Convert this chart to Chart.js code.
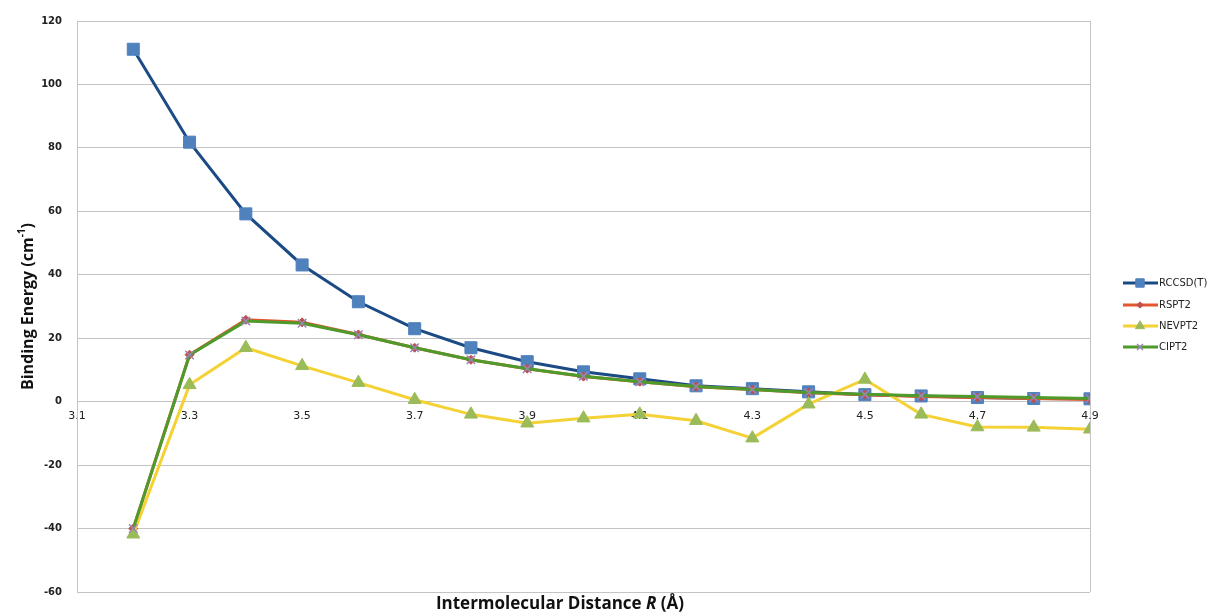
<!DOCTYPE html>
<html>
<head>
<meta charset="utf-8">
<title>Binding Energy</title>
<script src="https://cdn.jsdelivr.net/npm/chart.js@4"></script>
<style>
  html, body { margin: 0; padding: 0; background: #fff; }
  canvas { display: block; }
</style>
</head>
<body>
<canvas id="chart" width="1209" height="615"></canvas>
<script>
// distances R (Å)
const distances = [3.2, 3.3, 3.4, 3.5, 3.6, 3.7, 3.8, 3.9, 4.0, 4.1, 4.2, 4.3, 4.4, 4.5, 4.6, 4.7, 4.8, 4.9];
// binding energies (cm-1)
const rccsdt = [111.1, 81.8, 59.2, 43.1, 31.5, 23.0, 17.0, 12.6, 9.4, 7.2, 5.0, 4.1, 3.1, 2.2, 1.8, 1.3, 1.0, 0.9];
const rspt2  = [-40.0, 14.8, 25.8, 25.0, 21.2, 17.0, 13.2, 10.4, 7.9, 6.3, 4.7, 3.8, 2.8, 2.2, 1.6, 1.3, 1.0, 0.7];
const nevpt2 = [-41.8, 5.3, 17.0, 11.3, 6.0, 0.6, -4.0, -6.8, -5.2, -4.0, -6.0, -11.5, -0.8, 7.0, -4.0, -8.0, -8.1, -8.7];
const cipt2  = [-40.0, 14.7, 25.4, 24.7, 21.1, 17.0, 13.2, 10.4, 8.0, 6.3, 4.8, 3.8, 2.9, 2.3, 1.9, 1.6, 1.3, 1.0];
const xTicks = [3.1, 3.3, 3.5, 3.7, 3.9, 4.1, 4.3, 4.5, 4.7, 4.9];
const yTicks = [-60, -40, -20, 0, 20, 40, 60, 80, 100, 120];

const gridGrey = '#c4c4c4';

function pts(vals) {
  return distances.map((d, i) => ({ x: d, y: vals[i] }));
}

// axis titles + legend drawn on the canvas
const decorations = {
  id: 'decorations',
  beforeDraw(chart) {
    const c = chart.ctx;
    c.save();
    c.fillStyle = '#fff';
    c.fillRect(0, 0, chart.width, chart.height);
    c.restore();
  },
  afterDraw(chart) {
    const c = chart.ctx;
    const area = chart.chartArea;
    c.save();
    c.fillStyle = '#111';
    c.textBaseline = 'middle';

    // x title with italic R
    const parts = [
      ['bold 17px "Open Sans"', 'Intermolecular Distance '],
      ['italic bold 17px "Open Sans"', 'R'],
      ['bold 17px "Open Sans"', ' (Å)']
    ];
    let total = 0;
    parts.forEach(([f, t]) => { c.font = f; total += c.measureText(t).width; });
    let x = 560 - total / 2;
    parts.forEach(([f, t]) => {
      c.font = f;
      c.textAlign = 'left';
      c.fillText(t, x, 604);
      x += c.measureText(t).width;
    });

    // y title with superscript -1
    c.translate(28, (area.top + area.bottom) / 2);
    c.rotate(-Math.PI / 2);
    const main = 'Binding Energy (cm';
    const sup = '-1';
    const tail = ')';
    c.font = 'bold 16px "Open Sans"';
    const w1 = c.measureText(main).width;
    const w3 = c.measureText(tail).width;
    c.font = 'bold 10px "Open Sans"';
    const w2 = c.measureText(sup).width;
    let yx = -(w1 + w2 + w3) / 2;
    c.textAlign = 'left';
    c.font = 'bold 16px "Open Sans"';
    c.fillText(main, yx, 0);
    yx += w1;
    c.font = 'bold 10px "Open Sans"';
    c.fillText(sup, yx, -6);
    yx += w2;
    c.font = 'bold 16px "Open Sans"';
    c.fillText(tail, yx, 0);
    c.restore();

    // legend: line sample with the marker in the middle
    const rows = [283, 305, 326, 347];
    chart.data.datasets.forEach((ds, i) => {
      const y = rows[i];
      c.save();
      c.strokeStyle = ds.borderColor;
      c.lineWidth = 3;
      c.beginPath();
      c.moveTo(1123, y);
      c.lineTo(1158, y);
      c.stroke();
      c.fillStyle = ds.pointBackgroundColor;
      c.strokeStyle = ds.pointBorderColor;
      c.lineWidth = ds.pointBorderWidth;
      Chart.helpers.drawPoint(c, {
        pointStyle: ds.pointStyle,
        radius: ds.pointRadius * 0.7,
        borderWidth: ds.pointBorderWidth
      }, 1140, y);
      c.fillStyle = '#222';
      c.font = '10px "DejaVu Sans"';
      c.textAlign = 'left';
      c.textBaseline = 'middle';
      c.fillText(ds.label, 1159, y);
      c.restore();
    });
  }
};

new Chart(document.getElementById('chart'), {
  type: 'line',
  data: {
    datasets: [
      {
        label: 'RCCSD(T)', data: pts(rccsdt), order: 3,
        borderColor: '#1b4a84', borderWidth: 3,
        pointStyle: 'rect', pointRadius: 8.5,
        pointBackgroundColor: '#4f81bd', pointBorderColor: '#4f81bd', pointBorderWidth: 1
      },
      {
        label: 'RSPT2', data: pts(rspt2), order: 2,
        borderColor: '#e2572f', borderWidth: 3,
        pointStyle: 'rectRot', pointRadius: 4.5,
        pointBackgroundColor: '#c0504d', pointBorderColor: '#c0504d', pointBorderWidth: 1
      },
      {
        label: 'NEVPT2', data: pts(nevpt2), order: 1,
        borderColor: '#f4d235', borderWidth: 3,
        pointStyle: 'triangle', pointRadius: 7.5,
        pointBackgroundColor: '#9bbb59', pointBorderColor: '#9bbb59', pointBorderWidth: 1
      },
      {
        label: 'CIPT2', data: pts(cipt2), order: 0,
        borderColor: '#4e9a2b', borderWidth: 3,
        pointStyle: 'crossRot', pointRadius: 6,
        pointBackgroundColor: '#8064a2', pointBorderColor: '#9b85b3', pointBorderWidth: 1.5
      }
    ]
  },
  options: {
    responsive: false,
    animation: false,
    layout: { padding: { top: 16, right: 119, bottom: 23, left: 0 } },
    plugins: { legend: { display: false }, tooltip: { enabled: false } },
    elements: { line: { tension: 0 } },
    scales: {
      x: {
        type: 'linear',
        position: { y: 0 },
        min: 3.1, max: 4.9,
        afterBuildTicks(scale) { scale.ticks = xTicks.map(v => ({ value: v })); },
        ticks: {
          padding: 8,
          color: '#222',
          font: { family: 'DejaVu Sans', size: 11 },
          callback: v => v.toFixed(1)
        },
        border: { display: false },
        grid: {
          drawTicks: false,
          color: ctx => (ctx.tick && ctx.tick.value === 4.9 ? gridGrey : 'transparent')
        }
      },
      y: {
        min: -60, max: 120,
        afterBuildTicks(scale) { scale.ticks = yTicks.map(v => ({ value: v })); },
        afterFit(scale) { scale.width = 77; },
        ticks: {
          padding: 15,
          color: '#222',
          font: { family: 'DejaVu Sans', size: 10, weight: 'bold' }
        },
        border: { display: true, color: gridGrey },
        grid: { drawTicks: false, color: gridGrey }
      }
    }
  },
  plugins: [decorations]
});
</script>
</body>
</html>
